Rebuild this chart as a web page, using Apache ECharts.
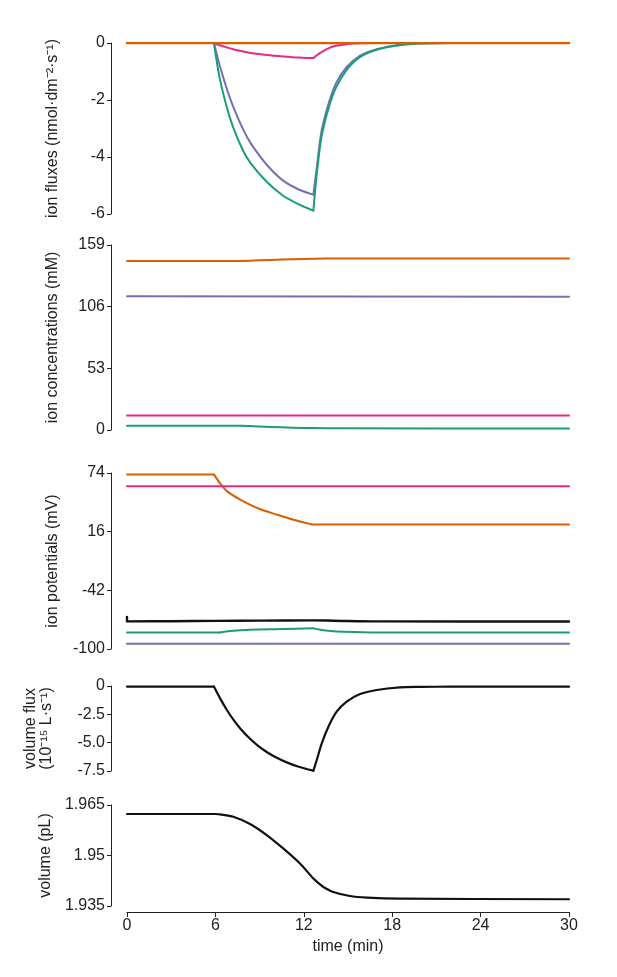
<!DOCTYPE html>
<html><head><meta charset="utf-8">
<script src="https://cdn.jsdelivr.net/npm/echarts@6/dist/echarts.min.js"></script>
<style>html,body{margin:0;padding:0;background:#fff}#c{width:617px;height:977px}</style>
</head><body><div id="c"></div><script>
// ---------- data ----------
// Panel 1: ion fluxes (nmol·dm-2·s-1)
const tFlux        = [0, 5.9, 6.3, 6.8, 7.2, 7.9, 8.4, 9.5, 10.6, 11.7, 12.65, 12.9, 13.2, 13.7, 14.2, 14.9, 15.8, 17.0, 18.5, 20, 22, 30];
const fluxPink     = [0, 0, -0.08, -0.16, -0.22, -0.30, -0.35, -0.42, -0.47, -0.51, -0.53, -0.42, -0.32, -0.18, -0.10, -0.04, -0.01, 0, 0, 0, 0, 0];
const fluxPurple   = [0, 0, -0.80, -1.65, -2.22, -3.05, -3.52, -4.28, -4.83, -5.15, -5.32, -4.30, -3.10, -2.10, -1.40, -0.85, -0.45, -0.21, -0.06, -0.01, 0, 0];
const fluxGreen    = [0, 0, -1.26, -2.3, -2.95, -3.8, -4.22, -4.88, -5.36, -5.67, -5.88, -4.50, -3.30, -2.25, -1.55, -0.95, -0.50, -0.23, -0.08, -0.02, 0, 0];
const tFluxOrange  = [0, 30];
const fluxOrange   = [0, 0];

// Panel 2: ion concentrations (mM)
const tConc        = [0, 7.7, 9, 10.5, 12, 13.5, 14.6, 30];
const concOrange   = [145.2, 145.3, 145.8, 146.5, 147.0, 147.3, 147.5, 147.5];
const concGreen    = [3.7, 3.6, 3.0, 2.3, 1.8, 1.5, 1.4, 1.3];
const tConcFlat    = [0, 30];
const concPurple   = [114.9, 114.6];
const concPink     = [12.5, 12.5];

// Panel 3: ion potentials (mV)
const tPotOrange   = [0, 5.9, 6.3, 6.8, 7.9, 9.0, 10.2, 11.3, 12.55, 30];
const potOrange    = [72.6, 72.6, 64.1, 55.8, 45.9, 38.4, 32.8, 27.8, 23.2, 23.2];
const tPotFlat     = [0, 30];
const potPink      = [60.8, 60.8];
const potPurple    = [-94.8, -94.8];
const tPotBlack    = [0, 0, 3, 6, 9, 12.6, 14, 17, 30];
const potBlack     = [-68.4, -72.7, -72.5, -72.2, -71.9, -71.7, -72.0, -72.7, -72.8];
const tPotGreen    = [0, 6.3, 7.0, 8.35, 10.6, 12.65, 13.1, 13.8, 14.7, 17, 30];
const potGreen     = [-83.6, -83.6, -82.2, -80.9, -80.3, -79.6, -80.9, -82.2, -82.9, -83.6, -83.7];

// Panel 4: volume flux (10-15 L·s-1)
const tVFlux       = [0, 5.9, 6.31, 6.8, 7.22, 7.7, 8.35, 8.9, 9.48, 10.1, 10.84, 11.6, 12.65, 12.88, 13.22, 13.67, 14.23, 14.91, 15.82, 16.95, 18.53, 19.9, 22, 30];
const vFlux        = [-0.05, -0.05, -1.07, -2.16, -2.97, -3.77, -4.66, -5.28, -5.82, -6.29, -6.74, -7.10, -7.47, -6.53, -5.06, -3.59, -2.27, -1.38, -0.71, -0.35, -0.12, -0.08, -0.06, -0.06];

// Panel 5: volume (pL)
const tVol         = [0, 6.0, 6.31, 7.22, 8.35, 9.48, 10.6, 11.74, 12.65, 13.0, 13.33, 14.0, 15.13, 16.3, 18.53, 30];
const vol          = [1.96232, 1.96232, 1.9622, 1.96151, 1.95934, 1.95606, 1.9521, 1.94763, 1.94316, 1.9418, 1.94066, 1.93917, 1.93797, 1.9375, 1.9372, 1.9370];

// axis ticks
const timeTicks = [0, 6, 12, 18, 24, 30];

// ---------- chart ----------
const C = {orange:'#d95f02', purple:'#7570b3', pink:'#e7298a', green:'#1b9e77', black:'#111111'};
const FONT = '"Liberation Sans", Arial, Helvetica, sans-serif';
const zip = (t, v) => t.map((x, i) => [x, v[i]]);

const grids = [
  {top: 43,  height: 171},
  {top: 245, height: 185},
  {top: 473, height: 176},
  {top: 686, height: 85},
  {top: 805, height: 101}
].map(g => Object.assign({left: 127, right: 48, containLabel: false}, g));

function yAx(i, min, max, interval, name, gap, fmt) {
  return {
    type: 'value', gridIndex: i, min, max, interval, offset: 16,
    name, nameLocation: 'middle', nameGap: gap,
    nameTextStyle: {fontSize: 16, color: '#222', fontFamily: FONT, lineHeight: 16},
    axisLine: {show: true, onZero: false, lineStyle: {color: '#222', width: 1}},
    axisTick: {show: true, length: 4, lineStyle: {color: '#222'}},
    splitLine: {show: false},
    axisLabel: {fontSize: 16, color: '#222', fontFamily: FONT, margin: 6, formatter: fmt}
  };
}
const xAxes = grids.map((g, i) => ({
  type: 'value', gridIndex: i, min: timeTicks[0], max: timeTicks[timeTicks.length - 1],
  interval: timeTicks[1] - timeTicks[0],
  show: i === 4, offset: 6,
  name: i === 4 ? 'time (min)' : '', nameLocation: 'middle', nameGap: 27,
  nameTextStyle: {fontSize: 16, color: '#222', fontFamily: FONT},
  axisLine: {show: true, onZero: false, lineStyle: {color: '#222', width: 1}},
  axisTick: {show: true, length: 5, lineStyle: {color: '#222'}},
  splitLine: {show: false},
  axisLabel: {fontSize: 16, color: '#222', fontFamily: FONT, margin: 6}
}));
const yAxes = [
  yAx(0, -6, 0, 2, 'ion fluxes (nmol·dm\u207B\u00B2·s\u207B\u00B9)', 50),
  yAx(1, 0, 159, 53, 'ion concentrations (mM)', 50),
  yAx(2, -100, 74, 58, 'ion potentials (mV)', 50),
  yAx(3, -7.5, 0, 2.5, 'volume flux\n(10\u207B\u00B9\u2075 L·s\u207B\u00B9)', 56, v => v === 0 ? '0' : v.toFixed(1)),
  yAx(4, 1.935, 1.965, 0.015, 'volume (pL)', 49, v => String(parseFloat(v.toFixed(3))))
];

// one curve, split at break times into separately smoothed pieces (sharp corners kept)
function curve(i, t, v, color, w, breaks, smooth) {
  const pts = zip(t, v);
  const cuts = [0];
  (breaks || []).forEach(b => { const k = t.indexOf(b); if (k > 0) cuts.push(k); });
  cuts.push(pts.length - 1);
  const out = [];
  for (let s = 0; s < cuts.length - 1; s++) {
    out.push({type: 'line', xAxisIndex: i, yAxisIndex: i,
      data: pts.slice(cuts[s], cuts[s + 1] + 1), showSymbol: false, symbol: 'none',
      smooth: smooth === undefined ? 0.3 : smooth,
      lineStyle: {color, width: w || 2, cap: 'round', join: 'round'},
      itemStyle: {color}, animation: false});
  }
  return out;
}
const series = [].concat(
  curve(0, tFlux, fluxPink, C.pink, 2, [5.9, 12.65]),
  curve(0, tFlux, fluxPurple, C.purple, 2, [5.9, 12.65]),
  curve(0, tFlux, fluxGreen, C.green, 2, [5.9, 12.65]),
  curve(0, tFluxOrange, fluxOrange, C.orange, 2.5),
  curve(1, tConc, concOrange, C.orange, 2),
  curve(1, tConcFlat, concPurple, C.purple, 2),
  curve(1, tConcFlat, concPink, C.pink, 2),
  curve(1, tConc, concGreen, C.green, 2),
  curve(2, tPotOrange, potOrange, C.orange, 2, [5.9, 12.55]),
  curve(2, tPotFlat, potPink, C.pink, 2),
  curve(2, tPotBlack, potBlack, C.black, 2.4, [0]),
  curve(2, tPotGreen, potGreen, C.green, 2, [6.3, 12.65]),
  curve(2, tPotFlat, potPurple, C.purple, 2),
  curve(3, tVFlux, vFlux, C.black, 2.2, [5.9, 12.65]),
  curve(4, tVol, vol, C.black, 2.2, [6.0])
);

const chart = echarts.init(document.getElementById('c'), null, {renderer: 'canvas'});
chart.setOption({
  animation: false, backgroundColor: '#ffffff',
  textStyle: {fontFamily: FONT},
  grid: grids, xAxis: xAxes, yAxis: yAxes, series
});
</script></body></html>
